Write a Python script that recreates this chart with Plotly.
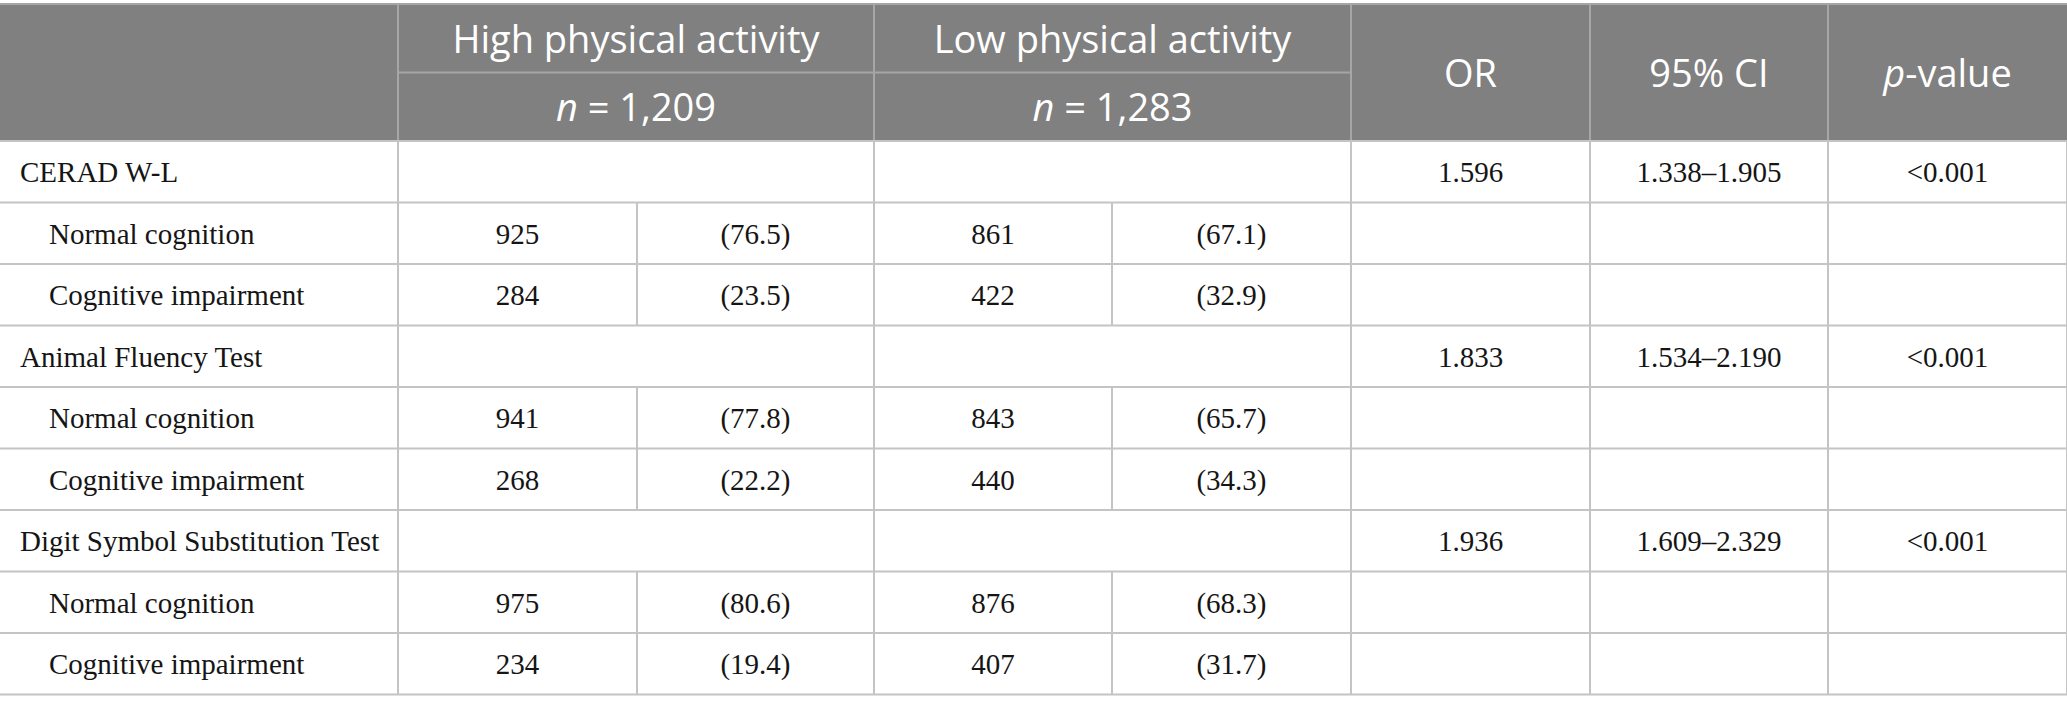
import plotly.graph_objects as go

# ── Data ──────────────────────────────────────────────────────────────────────
tests = ["CERAD W-L", "Animal Fluency Test", "Digit Symbol Substitution Test"]
outcomes = ["Normal cognition", "Cognitive impairment"]
group_names = ["High physical activity", "Low physical activity"]
group_n = ["1,209", "1,283"]

high_counts = [[925, 284], [941, 268], [975, 234]]
high_pct = [[76.5, 23.5], [77.8, 22.2], [80.6, 19.4]]
low_counts = [[861, 422], [843, 440], [876, 407]]
low_pct = [[67.1, 32.9], [65.7, 34.3], [68.3, 31.7]]

odds_ratio = [1.596, 1.833, 1.936]
ci_lower = [1.338, 1.534, 1.609]
ci_upper = [1.905, 2.190, 2.329]
p_values = ["<0.001", "<0.001", "<0.001"]

# ── Geometry (pixels) ─────────────────────────────────────────────────────────
W, H = 2067, 712
col_edges = [0, 398, 637, 874, 1112, 1351, 1590, 1828, 2067]
top, head_mid, head_bot = 4, 72.5, 141
row_h = 61.5
n_rows = len(tests) * (1 + len(outcomes))
row_edges = [head_bot + i * row_h for i in range(n_rows + 1)]

HEAD_BG = "#808080"
HEAD_LINE = "#a6a6a6"
BODY_LINE = "#c4c4c4"
SANS = "Open Sans"
SERIF = "Liberation Serif"
HEAD_SIZE = 38
BODY_SIZE = 29
TEXT_COLOR = "#151515"
HEAD_NUDGE = 5   # small downward shift so glyphs sit optically centred
BODY_NUDGE = 3


def mid(a, b):
    return (a + b) / 2


shapes = []


def line(x0, y0, x1, y1, color, width=2):
    shapes.append(dict(type="line", xref="x", yref="y", x0=x0, y0=y0, x1=x1, y1=y1,
                       line=dict(color=color, width=width), layer="above"))


# header background
shapes.append(dict(type="rect", xref="x", yref="y", x0=0, y0=top, x1=W, y1=head_bot,
                   fillcolor=HEAD_BG, line=dict(width=0), layer="below"))
line(0, top, W, top, HEAD_LINE)
line(col_edges[1], head_mid, col_edges[5], head_mid, HEAD_LINE)
for i in [1, 3, 5, 6, 7]:
    line(col_edges[i], top, col_edges[i], head_bot, HEAD_LINE)

# body grid
for y in row_edges:
    line(0, y, W, y, BODY_LINE)
for i in [1, 3, 5, 6, 7, 8]:
    line(col_edges[i], row_edges[0], col_edges[i], row_edges[-1], BODY_LINE)
for r in range(n_rows):
    if r % 3 != 0:
        for i in [2, 4]:
            line(col_edges[i], row_edges[r], col_edges[i], row_edges[r + 1], BODY_LINE)

fig = go.Figure()

# ── Header text ───────────────────────────────────────────────────────────────
hx, hy, ht = [], [], []
for g, (name, n) in enumerate(zip(group_names, group_n)):
    cx = mid(col_edges[1 + 2 * g], col_edges[3 + 2 * g])
    hx += [cx, cx]
    hy += [mid(top, head_mid) + HEAD_NUDGE, mid(head_mid, head_bot) + HEAD_NUDGE]
    ht += [name, f"<i>n</i> = {n}"]
for i, label in zip([5, 6, 7], ["OR", "95% CI", "<i>p</i>-value"]):
    hx.append(mid(col_edges[i], col_edges[i + 1]))
    hy.append(mid(top, head_bot) + HEAD_NUDGE)
    ht.append(label)

fig.add_trace(go.Scatter(
    x=hx, y=hy, text=ht, mode="text", textposition="middle center",
    textfont=dict(family=SANS, size=HEAD_SIZE, color="white"),
    hoverinfo="skip", showlegend=False,
))

# ── Body text ─────────────────────────────────────────────────────────────────
lx, ly, lt = [], [], []
cx, cy, ct = [], [], []
r = 0
for t, test in enumerate(tests):
    yc = mid(row_edges[r], row_edges[r + 1]) + BODY_NUDGE
    lx.append(20)
    ly.append(yc)
    lt.append(test)
    vals = [f"{odds_ratio[t]:.3f}", f"{ci_lower[t]:.3f}–{ci_upper[t]:.3f}", p_values[t]]
    for i, v in zip([5, 6, 7], vals):
        cx.append(mid(col_edges[i], col_edges[i + 1]))
        cy.append(yc)
        ct.append(v)
    r += 1
    for o, outcome in enumerate(outcomes):
        yc = mid(row_edges[r], row_edges[r + 1]) + BODY_NUDGE
        lx.append(49)
        ly.append(yc)
        lt.append(outcome)
        vals = [str(high_counts[t][o]), f"({high_pct[t][o]:.1f})",
                str(low_counts[t][o]), f"({low_pct[t][o]:.1f})"]
        for i, v in zip([1, 2, 3, 4], vals):
            cx.append(mid(col_edges[i], col_edges[i + 1]))
            cy.append(yc)
            ct.append(v)
        r += 1

fig.add_trace(go.Scatter(
    x=lx, y=ly, text=lt, mode="text", textposition="middle right",
    textfont=dict(family=SERIF, size=BODY_SIZE, color=TEXT_COLOR),
    hoverinfo="skip", showlegend=False,
))
fig.add_trace(go.Scatter(
    x=cx, y=cy, text=ct, mode="text", textposition="middle center",
    textfont=dict(family=SERIF, size=BODY_SIZE, color=TEXT_COLOR),
    hoverinfo="skip", showlegend=False,
))

# ── Layout ────────────────────────────────────────────────────────────────────
fig.update_layout(
    width=W, height=H,
    margin=dict(l=0, r=0, t=0, b=0),
    paper_bgcolor="white", plot_bgcolor="white",
    shapes=shapes,
    xaxis=dict(range=[0, W], visible=False, fixedrange=True),
    yaxis=dict(range=[H, 0], visible=False, fixedrange=True),
)

# drop the default page margin so the table sits at the window's corner
fig.write_html(
    "out.html",
    config={"displayModeBar": False},
    post_script="document.body.style.margin = '0';",
)
